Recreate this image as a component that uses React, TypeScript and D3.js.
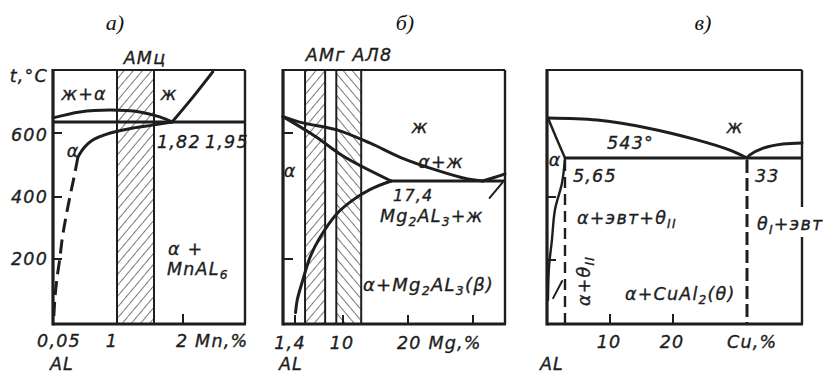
import React from 'react';
import * as d3 from 'd3';

type Pt = [number, number];

// ---- shared temperature axis (а, б) ----
const tempStops = [0, 200, 400, 600, 800];
const tempTicksA = [200, 400, 600];
const tempTicksB = [200, 600];

// ---- а) Al–Mn ----
const mnStops = [0.05, 1, 1.6, 2, 3];
const mnBand: Pt = [1.0, 1.6]; // АМц
const mnEutecticT = 635;
const mnEutecticSpan: Pt = [0.05, 3];
const mnLiquidusArc: Pt[] = [[0.05, 648], [0.45, 667], [0.9, 673], [1.37, 667], [1.68, 651], [1.85, 635]];
const mnLiquidusRight: Pt[] = [[1.85, 635], [2.16, 714], [2.48, 794]];
const mnSolvusSolid: Pt[] = [[1.85, 635], [1.58, 625], [1.26, 616], [0.9, 600], [0.64, 578], [0.52, 556], [0.42, 525]];
const mnSolvusDashed: Pt[] = [[0.42, 525], [0.37, 470], [0.31, 410], [0.25, 345], [0.19, 270], [0.15, 200], [0.11, 140], [0.08, 80], [0.06, 10]];
const mnXTicks = [2];

// ---- б) Al–Mg ----
const mgStops = [0, 1.4, 10, 20, 30, 35];
const mgBandAMg: Pt = [3.2, 6.8];
const mgBandAL8: Pt = [8.8, 12.8];
const mgEutecticT = 450;
const mgEutecticSpan: Pt = [17.4, 35];
const mgLiquidus: Pt[] = [[0, 652], [2.8, 632], [8.9, 610], [14.2, 568], [18.8, 524], [24.5, 483], [29.2, 456], [31.5, 450]];
const mgLiquidusRight: Pt[] = [[31.5, 450], [33.3, 461], [35, 472]];
const mgSolidus: Pt[] = [[0, 652], [5, 590], [10, 528], [17.4, 450]];
const mgSolvus: Pt[] = [[17.4, 450], [14.2, 424], [11.5, 390], [8.9, 346], [5.9, 270], [4.1, 206], [2.8, 133], [1.8, 70], [1.5, 30]];
const mgBeta: Pt[] = [[32.6, 397], [34.6, 445]];
const mgXTicks = [1.4, 10, 20, 30];

// ---- в) Al–Cu ----
const cuTempStops = [0, 200, 400, 543, 660, 800];
const cuTempTicks = [200, 400];
const cuStops = [0, 5.65, 10, 20, 33, 42.5];
const cuEutecticT = 543;
const cuEutecticSpan: Pt = [5.65, 42.5];
const cuLiquidus: Pt[] = [[0, 660], [8.75, 654], [15.9, 631], [24.2, 596], [30, 566], [33, 543]];
const cuLiquidusRight: Pt[] = [[33, 543], [33.5, 552], [35.8, 572], [39.2, 584], [42.5, 587]];
const cuSolidus: Pt[] = [[0, 660], [2.8, 601], [5.65, 543]];
const cuSolvus: Pt[] = [[5.65, 543], [4.65, 451], [2.3, 359], [1.3, 263], [0.33, 177], [0, 71]];
const cuCross: Pt[] = [[1.7, 77], [4.7, 132]];
const cuDashed = [5.65, 33];
const cuXTicks = [10, 20];

const INK = '#1e1e1e';
const LBL = "'DejaVu Sans', sans-serif";
const TOP = 70;
const BOT = 324;

function mkLine(x: (v: number) => number, y: (v: number) => number) {
  return d3
    .line<Pt>()
    .x((d) => x(d[0]))
    .y((d) => y(d[1]))
    .curve(d3.curveCatmullRom.alpha(0.5));
}

const L = (props: { x: number; y: number; anchor?: string; size?: number; children: React.ReactNode; transform?: string }) => (
  <text
    x={props.x}
    y={props.y}
    textAnchor={props.anchor || 'start'}
    fontFamily={LBL}
    fontStyle="italic"
    fontSize={props.size || 17.5}
    letterSpacing={1.2}
    fill={INK}
    stroke={INK}
    strokeWidth={0.35}
    transform={props.transform}
  >
    {props.children}
  </text>
);

const Sub = ({ children }: { children: React.ReactNode }) => (
  <tspan baselineShift="-30%" fontSize="70%">{children}</tspan>
);

const Title = ({ x, children }: { x: number; children: React.ReactNode }) => (
  <text x={x} y={30} textAnchor="middle" fontFamily="'Liberation Serif', serif" fontStyle="italic" fontSize={22} fill="#111">
    {children}
  </text>
);

export default function App() {
  // а
  const yT = d3.scaleLinear().domain(tempStops).range([322, 259, 197, 133, 70]);
  const xMn = d3.scaleLinear().domain(mnStops).range([53, 117, 154, 183, 245]);
  const lMn = mkLine(xMn, yT);
  // б
  const xMg = d3.scaleLinear().domain(mgStops).range([283, 295, 343, 408, 473, 505]);
  const lMg = mkLine(xMg, yT);
  // в
  const yCu = d3.scaleLinear().domain(cuTempStops).range([322, 260, 197, 158, 118, 70]);
  const xCu = d3.scaleLinear().domain(cuStops).range([548, 565, 610, 673, 747, 802]);
  const lCu = mkLine(xCu, yCu);
  const straight = (x: any, y: any) => d3.line<Pt>().x((d) => x(d[0])).y((d) => y(d[1]));

  const thick = { fill: 'none', stroke: INK, strokeWidth: 3, strokeLinecap: 'round' as const, strokeLinejoin: 'round' as const };

  const band = (x0: number, x1: number, pat: string) => (
    <g>
      <rect x={x0} y={TOP} width={x1 - x0} height={BOT - TOP} fill={`url(#${pat})`} />
      <line x1={x0} x2={x0} y1={TOP} y2={BOT} stroke={INK} strokeWidth={2} />
      <line x1={x1} x2={x1} y1={TOP} y2={BOT} stroke={INK} strokeWidth={2} />
    </g>
  );

  const frame = (l: number, r: number) => (
    <g fill="none" stroke={INK}>
      <line x1={l} x2={r} y1={TOP} y2={TOP} strokeWidth={2.2} />
      <line x1={r} x2={r} y1={TOP} y2={BOT} strokeWidth={2.4} />
      <line x1={l} x2={r + 1} y1={BOT} y2={BOT} strokeWidth={3} />
      <line x1={l} x2={l} y1={TOP - 1} y2={BOT + 1.5} strokeWidth={3.2} />
    </g>
  );

  return (
    <svg width={840} height={374} style={{ position: 'absolute', left: 0, top: 0, background: '#fff' }}>
      <defs>
        <pattern id="hatchF" width={7} height={7} patternUnits="userSpaceOnUse" patternTransform="rotate(40)">
          <line x1={0} y1={0} x2={0} y2={7} stroke="#333" strokeWidth={1.3} />
        </pattern>
        <pattern id="hatchB" width={7} height={7} patternUnits="userSpaceOnUse" patternTransform="rotate(-40)">
          <line x1={0} y1={0} x2={0} y2={7} stroke="#333" strokeWidth={1.3} />
        </pattern>
      </defs>
      <rect width={840} height={374} fill="#fff" />

      {/* ---------- а) Al–Mn ---------- */}
      <Title x={115}>а)</Title>
      {band(xMn(mnBand[0]), xMn(mnBand[1]), 'hatchF')}
      <line x1={xMn(mnEutecticSpan[0])} x2={xMn(mnEutecticSpan[1])} y1={yT(mnEutecticT)} y2={yT(mnEutecticT)} stroke={INK} strokeWidth={3.2} />
      <path d={lMn(mnLiquidusArc)!} {...thick} />
      <path d={lMn(mnLiquidusRight)!} {...thick} />
      <path d={lMn(mnSolvusSolid)!} {...thick} />
      <path d={lMn(mnSolvusDashed)!} {...thick} strokeDasharray="14 7" strokeLinecap="butt" />
      {frame(53, 245)}
      {tempTicksA.map((t) => (
        <line key={t} x1={53} x2={62} y1={yT(t)} y2={yT(t)} stroke={INK} strokeWidth={2} />
      ))}
      {mnXTicks.map((t) => (
        <line key={t} x1={xMn(t)} x2={xMn(t)} y1={BOT} y2={BOT - 10} stroke={INK} strokeWidth={2} />
      ))}
      <L x={145} y={64} anchor="middle">АМц</L>
      <L x={48} y={82} anchor="end">t,°C</L>
      <L x={84} y={100} anchor="middle">ж+α</L>
      <L x={169} y={100} anchor="middle">ж</L>
      <L x={73} y={157} anchor="middle">α</L>
      <L x={48} y={141} anchor="end">{tempTicksA[2]}</L>
      <L x={48} y={203} anchor="end">{tempTicksA[1]}</L>
      <L x={48} y={265} anchor="end">{tempTicksA[0]}</L>
      <L x={157} y={148}>1,82</L>
      <L x={205} y={148}>1,95</L>
      <L x={168} y={255}>α +</L>
      <L x={167} y={275}>
        MnAL<Sub>6</Sub>
      </L>
      <L x={59} y={347} anchor="middle">0,05</L>
      <L x={112} y={347} anchor="middle">1</L>
      <L x={176} y={347}>2 Mn,%</L>
      <L x={62} y={370} anchor="middle">AL</L>

      {/* ---------- б) Al–Mg ---------- */}
      <Title x={405}>б)</Title>
      {band(xMg(mgBandAMg[0]), xMg(mgBandAMg[1]), 'hatchF')}
      {band(xMg(mgBandAL8[0]), xMg(mgBandAL8[1]), 'hatchB')}
      <line x1={xMg(mgEutecticSpan[0])} x2={xMg(mgEutecticSpan[1])} y1={yT(mgEutecticT)} y2={yT(mgEutecticT)} stroke={INK} strokeWidth={3.2} />
      <path d={lMg(mgLiquidus)!} {...thick} />
      <path d={lMg(mgLiquidusRight)!} {...thick} />
      <path d={lMg(mgSolidus)!} {...thick} />
      <path d={lMg(mgSolvus)!} {...thick} />
      <path d={straight(xMg, yT)(mgBeta)!} {...thick} strokeWidth={2} />
      {frame(283, 505)}
      {tempTicksB.map((t) => (
        <line key={t} x1={283} x2={293} y1={yT(t)} y2={yT(t)} stroke={INK} strokeWidth={2} />
      ))}
      {mgXTicks.map((t) => (
        <line key={t} x1={xMg(t)} x2={xMg(t)} y1={BOT} y2={BOT - 9} stroke={INK} strokeWidth={2} />
      ))}
      <L x={349} y={61} anchor="middle">АМг АЛ8</L>
      <L x={420} y={133} anchor="middle">ж</L>
      <L x={441} y={168} anchor="middle">α+ж</L>
      <L x={290} y={177} anchor="middle">α</L>
      <L x={393} y={201} size={16}>17,4</L>
      <L x={380} y={222}>
        Mg<Sub>2</Sub>AL<Sub>3</Sub>+ж
      </L>
      <L x={363} y={291} size={18}>
        α+Mg<Sub>2</Sub>AL<Sub>3</Sub>(β)
      </L>
      <L x={290} y={349} anchor="middle">1,4</L>
      <L x={342} y={349} anchor="middle">10</L>
      <L x={397} y={349}>20 Mg,%</L>
      <L x={291} y={370} anchor="middle">AL</L>

      {/* ---------- в) Al–Cu ---------- */}
      <Title x={703}>в)</Title>
      {cuDashed.map((c, i) => (
        <line key={c} x1={xCu(c)} x2={xCu(c)} y1={yCu(cuEutecticT) + 2} y2={BOT} stroke={INK} strokeWidth={i === 0 ? 2.4 : 3} strokeDasharray={i === 0 ? '11 6' : '13 5'} />
      ))}
      <line x1={xCu(cuEutecticSpan[0])} x2={xCu(cuEutecticSpan[1])} y1={yCu(cuEutecticT)} y2={yCu(cuEutecticT)} stroke={INK} strokeWidth={3.2} />
      <path d={lCu(cuLiquidus)!} {...thick} />
      <path d={lCu(cuLiquidusRight)!} {...thick} />
      <path d={lCu(cuSolidus)!} {...thick} strokeWidth={2.4} />
      <path d={lCu(cuSolvus)!} {...thick} strokeWidth={2.4} />
      <path d={straight(xCu, yCu)(cuCross)!} {...thick} strokeWidth={2} />
      {frame(547, 802)}
      {cuTempTicks.map((t) => (
        <line key={t} x1={547} x2={556} y1={yCu(t)} y2={yCu(t)} stroke={INK} strokeWidth={2} />
      ))}
      {cuXTicks.map((t) => (
        <line key={t} x1={xCu(t)} x2={xCu(t)} y1={BOT} y2={BOT - 10} stroke={INK} strokeWidth={2} />
      ))}
      <L x={735} y={133} anchor="middle">ж</L>
      <L x={607} y={149}>543°</L>
      <L x={555} y={166} anchor="middle">α</L>
      <L x={573} y={182}>5,65</L>
      <L x={755} y={182}>33</L>
      <L x={577} y={224}>
        α+эвт+θ<Sub>II</Sub>
      </L>
      <rect x={796} y={207} width={42} height={30} fill="#fff" />
      <L x={757} y={230}>
        θ<Sub>I</Sub>+эвт
      </L>
      <L x={625} y={300}>
        α+CuAl<Sub>2</Sub>(θ)
      </L>
      <L x={0} y={0} anchor="middle" transform="translate(590,281) rotate(-90)">
        α+θ<Sub>II</Sub>
      </L>
      <L x={609} y={348} anchor="middle">10</L>
      <L x={672} y={348} anchor="middle">20</L>
      <L x={727} y={348}>Cu,%</L>
      <L x={552} y={370} anchor="middle">AL</L>
    </svg>
  );
}
